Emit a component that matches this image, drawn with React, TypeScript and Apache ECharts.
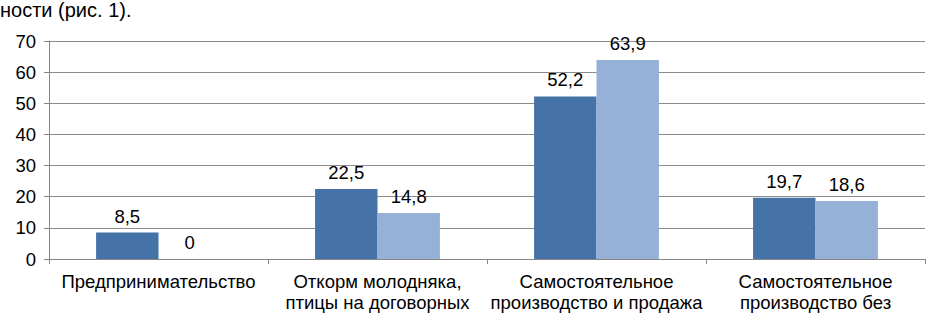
import React, { useEffect, useRef } from "react";
import * as echarts from "echarts";

const categories = [
  "Предпринимательство",
  "Откорм молодняка,\nптицы на договорных",
  "Самостоятельное\nпроизводство и продажа",
  "Самостоятельное\nпроизводство без",
];
const series1 = [8.5, 22.5, 52.2, 19.7];
const series2 = [0, 14.8, 63.9, 18.6];
const yMin = 0;
const yMax = 70;
const yStep = 10;
const captionText = "ности (рис. 1).";

const FONT = "Liberation Sans, Arial, sans-serif";

export default function App() {
  const ref = useRef<HTMLDivElement>(null);
  useEffect(() => {
    if (!ref.current) return;
    const chart = echarts.init(ref.current, undefined, { renderer: "svg" });
    const label = {
      show: true,
      position: "top" as const,
      distance: 7,
      fontSize: 18.5,
      color: "#000",
      fontFamily: FONT,
      formatter: (p: any) => String(p.value).replace(".", ","),
    };
    chart.setOption({
      animation: false,
      backgroundColor: "#fff",
      textStyle: { fontFamily: FONT },
      grid: {
        left: 49,
        right: 1,
        top: 41,
        bottom: 55,
        containLabel: false,
        outerBoundsMode: "none",
      },
      graphic: [
        {
          type: "text",
          left: 0,
          top: 0,
          style: { text: captionText, fontSize: 20, fill: "#000", fontFamily: FONT },
        },
      ],
      xAxis: {
        type: "category",
        data: categories,
        axisLine: { lineStyle: { color: "#868686", width: 1 } },
        axisTick: { show: true, length: 5, lineStyle: { color: "#868686" } },
        axisLabel: {
          interval: 0,
          fontSize: 18.5,
          lineHeight: 21,
          color: "#000",
          margin: 12,
          fontFamily: FONT,
        },
      },
      yAxis: {
        type: "value",
        min: yMin,
        max: yMax,
        interval: yStep,
        axisLine: { show: true, lineStyle: { color: "#868686", width: 1 } },
        axisTick: { show: true, length: 5, lineStyle: { color: "#868686" } },
        splitLine: { lineStyle: { color: "#8c8c8c", width: 1 } },
        axisLabel: { fontSize: 18.5, color: "#000", margin: 13, fontFamily: FONT },
      },
      series: [
        {
          type: "bar",
          data: series1,
          barGap: "0%",
          barCategoryGap: "43%",
          itemStyle: { color: "#4572A7" },
          label,
        },
        {
          type: "bar",
          data: series2,
          barGap: "0%",
          barCategoryGap: "43%",
          itemStyle: { color: "#95B1D8" },
          label,
        },
      ],
    });
    return () => chart.dispose();
  }, []);
  return (
    <div
      ref={ref}
      style={{ position: "fixed", left: 0, top: 0, width: 926, height: 314 }}
    />
  );
}
